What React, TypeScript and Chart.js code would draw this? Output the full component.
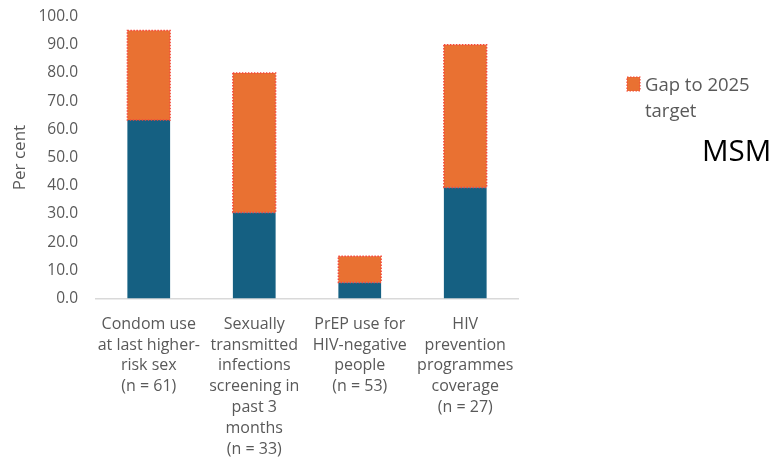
import React, { useEffect, useRef } from "react";
import { Chart, registerables } from "chart.js";

Chart.register(...registerables);

const categories: string[][] = [
  ["Condom use", "at last higher-", "risk sex", "(n = 61)"],
  ["Sexually", "transmitted", "infections", "screening in", "past 3", "months", "(n = 33)"],
  ["PrEP use for", "HIV-negative", "people", "(n = 53)"],
  ["HIV", "prevention", "programmes", "coverage", "(n = 27)"],
];
const achieved = [63.3, 30.5, 5.7, 39.4];
const gapToTarget = [31.7, 49.5, 9.3, 50.6];
const yTicks = [0, 10, 20, 30, 40, 50, 60, 70, 80, 90, 100];

const FONT = "'Open Sans', sans-serif";
const GREY = "#595959";
const BLUE = "#156082";
const ORANGE = "#E97132";
const DOT_RED = "#F5473B";

// Dotted outline around the gap segments and the side legend / group label.
const extrasPlugin = {
  id: "extras",
  afterDatasetsDraw(chart: any) {
    const ctx = chart.ctx;
    const meta = chart.getDatasetMeta(1);
    ctx.save();
    ctx.strokeStyle = DOT_RED;
    ctx.lineWidth = 1.5;
    ctx.setLineDash([1.5, 1.5]);
    meta.data.forEach((bar: any) => {
      const { x, y, base, width } = bar.getProps(["x", "y", "base", "width"], true);
      ctx.strokeRect(x - width / 2, y, width, base - y);
    });
    ctx.restore();
  },
  afterDraw(chart: any) {
    const ctx = chart.ctx;
    ctx.save();
    // legend swatch
    ctx.fillStyle = ORANGE;
    ctx.fillRect(627, 77, 13, 14);
    ctx.strokeStyle = DOT_RED;
    ctx.lineWidth = 1.2;
    ctx.setLineDash([1.5, 1.5]);
    ctx.strokeRect(627, 77, 13, 14);
    ctx.setLineDash([]);
    ctx.fillStyle = GREY;
    ctx.font = `18.5px ${FONT}`;
    ctx.textBaseline = "alphabetic";
    ctx.textAlign = "left";
    ctx.fillText(chart.data.datasets[1].label.split("|")[0], 645, 90.5);
    ctx.fillText(chart.data.datasets[1].label.split("|")[1], 645, 116.5);
    // group label
    ctx.fillStyle = "#000000";
    ctx.font = `29.5px ${FONT}`;
    ctx.fillText("MSM", 702, 161);
    ctx.restore();
  },
};

export default function App() {
  const ref = useRef<HTMLCanvasElement>(null);

  useEffect(() => {
    if (!ref.current) return;
    const chart = new Chart(ref.current, {
      type: "bar",
      data: {
        labels: categories,
        datasets: [
          {
            label: "Achieved",
            data: achieved,
            backgroundColor: BLUE,
            borderWidth: 0,
            barPercentage: 0.405,
            categoryPercentage: 1,
          },
          {
            label: "Gap to 2025|target",
            data: gapToTarget,
            backgroundColor: ORANGE,
            borderWidth: 0,
            barPercentage: 0.405,
            categoryPercentage: 1,
          },
        ],
      },
      options: {
        responsive: false,
        animation: false,
        layout: { padding: { left: 0, right: 258, top: 16.5, bottom: 0 } },
        plugins: {
          legend: { display: false },
          tooltip: { enabled: false },
        },
        scales: {
          x: {
            stacked: true,
            grid: { display: false, drawTicks: false },
            border: { display: true, color: "#D9D9D9", width: 1.5 },
            ticks: {
              color: GREY,
              font: { family: FONT, size: 16, lineHeight: 1.31 },
              padding: 15,
              maxRotation: 0,
              autoSkip: false,
            },
            afterFit(scale: any) {
              scale.height = 457 - 298.5;
              scale.paddingLeft = 0;
              scale.paddingRight = 0;
            },
          },
          y: {
            stacked: true,
            min: 0,
            max: 100,
            afterBuildTicks(scale: any) {
              scale.ticks = yTicks.map((v) => ({ value: v }));
            },
            grid: { display: false, drawTicks: false },
            border: { display: false },
            ticks: {
              color: GREY,
              font: { family: FONT, size: 15.5 },
              padding: 18,
              callback: (v: any) => Number(v).toFixed(1),
            },
            title: {
              display: true,
              text: "Per cent",
              color: GREY,
              font: { family: FONT, size: 17 },
              padding: { top: 10, bottom: 0 },
            },
            afterFit(scale: any) {
              scale.width = 96;
              scale.paddingTop = 0;
              scale.paddingBottom = 0;
            },
          },
        },
      },
      plugins: [extrasPlugin],
    });
    return () => chart.destroy();
  }, []);

  return (
    <div style={{ position: "fixed", left: 0, top: 0, width: 776, height: 457, background: "#fff" }}>
      <canvas ref={ref} width={776} height={457} style={{ display: "block" }} />
    </div>
  );
}
